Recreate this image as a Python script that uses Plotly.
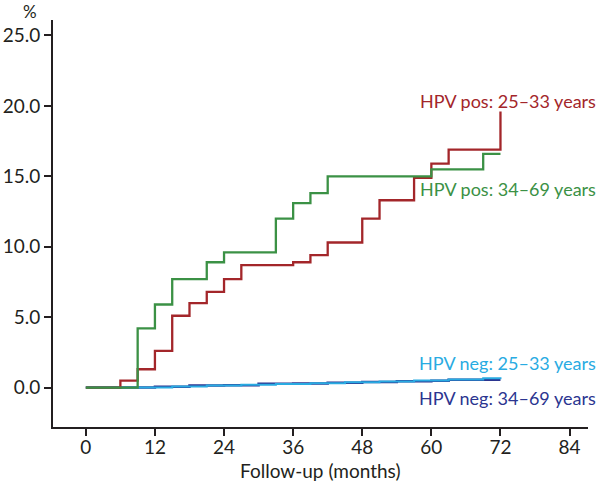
import plotly.graph_objects as go

# cumulative incidence (%) by follow-up month, step curves
pos_young_months = [0, 6, 9, 12, 15, 18, 21, 24, 27, 36, 39, 42, 48, 51, 57, 60, 63, 72]
pos_young_pct = [0, 0.5, 1.3, 2.6, 5.1, 6.0, 6.8, 7.7, 8.7, 8.9, 9.4, 10.3, 12.0, 13.3, 14.9, 15.9, 16.9, 19.6]

pos_old_months = [0, 9, 12, 15, 21, 24, 33, 36, 39, 42, 60, 69, 72]
pos_old_pct = [0, 4.2, 5.9, 7.7, 8.9, 9.6, 12.0, 13.1, 13.8, 15.0, 15.5, 16.6, 16.6]

neg_young_months = [0, 9, 15, 21, 27, 33, 39, 45, 51, 57, 63, 69, 72]
neg_young_pct = [0, 0.0, 0.08, 0.14, 0.2, 0.25, 0.31, 0.37, 0.43, 0.5, 0.57, 0.66, 0.73]

neg_old_months = [0, 12, 18, 24, 30, 36, 42, 48, 54, 60, 63, 72]
neg_old_pct = [0, 0.05, 0.14, 0.17, 0.27, 0.29, 0.35, 0.4, 0.45, 0.48, 0.55, 0.55]

x_ticks = [0, 12, 24, 36, 48, 60, 72, 84]
y_ticks = [0, 5, 10, 15, 20, 25]

RED = "#a3262a"
GREEN = "#3b9145"
LIGHTBLUE = "#29abe2"
NAVY = "#2b3590"
TXT = "#231f20"
FONT = "Lato"
FS = 19

fig = go.Figure()
fig.add_trace(go.Scatter(x=neg_old_months, y=neg_old_pct, mode="lines", line_shape="hv",
                         line=dict(color=NAVY, width=2.5)))
fig.add_trace(go.Scatter(x=neg_young_months, y=neg_young_pct, mode="lines", line_shape="hv",
                         line=dict(color=LIGHTBLUE, width=2)))
fig.add_trace(go.Scatter(x=pos_young_months, y=pos_young_pct, mode="lines", line_shape="hv",
                         line=dict(color=RED, width=2.3)))
fig.add_trace(go.Scatter(x=pos_old_months, y=pos_old_pct, mode="lines", line_shape="hv",
                         line=dict(color=GREEN, width=2.3)))

labels = [
    ("HPV pos: 25\u201333 years", 20.35, RED),
    ("HPV pos: 34\u201369 years", 14.1, GREEN),
    ("HPV neg: 25\u201333 years", 1.75, LIGHTBLUE),
    ("HPV neg: 34\u201369 years", -0.72, NAVY),
]
for txt, yv, col in labels:
    fig.add_annotation(x=1.019, y=yv, xref="paper", yref="y", text=txt, showarrow=False,
                       xanchor="right", yanchor="middle",
                       font=dict(family=FONT, size=18, color=col))

fig.add_annotation(x=-0.043, y=1.02, xref="paper", yref="paper", text="%", showarrow=False,
                   xanchor="center", yanchor="middle", font=dict(family=FONT, size=17, color=TXT))
fig.add_annotation(x=0.499, y=-0.108, xref="paper", yref="paper", text="Follow-up (months)",
                   showarrow=False, xanchor="center", yanchor="middle",
                   font=dict(family=FONT, size=FS, color=TXT))

fig.update_layout(
    width=603, height=490,
    margin=dict(l=53, r=15, t=20, b=63),
    plot_bgcolor="white", paper_bgcolor="white",
    showlegend=False,
    font=dict(family=FONT, size=FS, color=TXT),
    xaxis=dict(range=[-5.7, 87.2], tickvals=x_ticks, ticks="outside", ticklen=7,
               tickwidth=1.5, tickcolor=TXT, showline=True, linecolor=TXT, linewidth=2,
               showgrid=False, zeroline=False, automargin=False, ticklabelstandoff=-5),
    yaxis=dict(range=[-2.8, 26.1], tickvals=y_ticks, tickformat=".1f", ticks="outside",
               ticklen=7, tickwidth=1.5, tickcolor=TXT, showline=True, linecolor=TXT,
               linewidth=2, showgrid=False, zeroline=False, automargin=False),
)

# drop the default 8px body margin so the figure fills the window
fig.write_html("out.html", config={"displayModeBar": False},
               post_script="document.body.style.margin='0';")
